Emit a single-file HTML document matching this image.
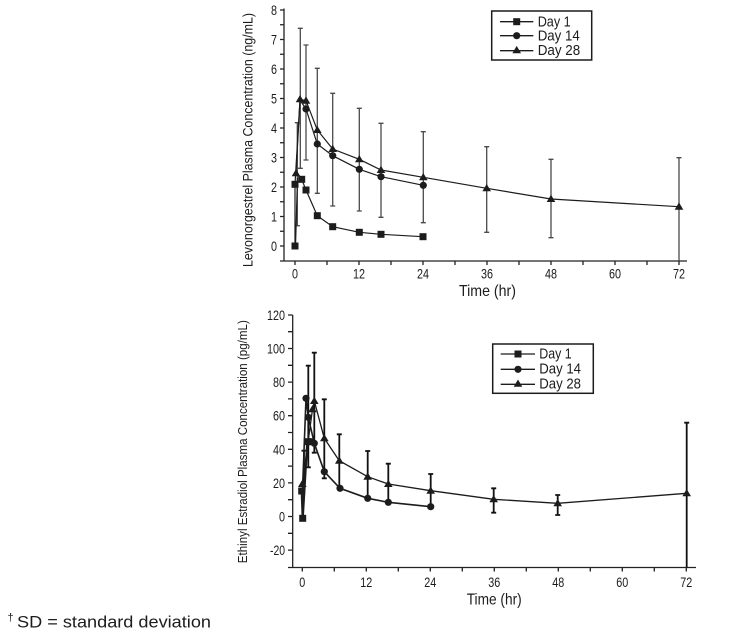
<!DOCTYPE html>
<html><head><meta charset="utf-8"><style>
html,body{margin:0;padding:0;background:#fff;}
svg{display:block;}
text{font-family:"Liberation Sans",Arial,sans-serif;fill:#1c1c1c;}
</style></head><body>
<svg width="735" height="634" viewBox="0 0 735 634" xmlns="http://www.w3.org/2000/svg">
<defs>
<rect id="sq" x="-3.5" y="-3.5" width="7" height="7" fill="#1c1c1c"/>
<circle id="ci" r="3.6" fill="#1c1c1c"/>
<path id="tr" d="M0,-4.3 L4.3,3 L-4.3,3 Z" fill="#1c1c1c"/>
</defs>

<!-- ================= TOP CHART ================= -->
<g stroke="#222" stroke-width="1.3" fill="none">
  <line x1="284" y1="8.5" x2="284" y2="261"/>
  <line x1="280" y1="261" x2="687" y2="261"/>
  <!-- y ticks every 0.5 -->
  <path d="M280,246H284M280,231.25H284M280,216.5H284M280,201.75H284M280,187H284M280,172.25H284M280,157.5H284M280,142.75H284M280,128H284M280,113.25H284M280,98.5H284M280,83.75H284M280,69H284M280,54.25H284M280,39.5H284M280,24.75H284M280,10H284"/>
  <!-- x ticks every 6h -->
  <path d="M295,261V265M327,261V265M359,261V265M391,261V265M423,261V265M455,261V265M487,261V265M519,261V265M551,261V265M583,261V265M615,261V265M647,261V265M679,261V265"/>
</g>
<g font-size="14" text-anchor="end">
  <text x="277" y="251" textLength="6" lengthAdjust="spacingAndGlyphs">0</text>
  <text x="277" y="221.5" textLength="6" lengthAdjust="spacingAndGlyphs">1</text>
  <text x="277" y="192" textLength="6" lengthAdjust="spacingAndGlyphs">2</text>
  <text x="277" y="162.5" textLength="6" lengthAdjust="spacingAndGlyphs">3</text>
  <text x="277" y="133" textLength="6" lengthAdjust="spacingAndGlyphs">4</text>
  <text x="277" y="103.5" textLength="6" lengthAdjust="spacingAndGlyphs">5</text>
  <text x="277" y="74" textLength="6" lengthAdjust="spacingAndGlyphs">6</text>
  <text x="277" y="44.5" textLength="6" lengthAdjust="spacingAndGlyphs">7</text>
  <text x="277" y="15" textLength="6" lengthAdjust="spacingAndGlyphs">8</text>
</g>
<g font-size="14" text-anchor="middle">
  <text x="295" y="278.5" textLength="6" lengthAdjust="spacingAndGlyphs">0</text>
  <text x="359" y="278.5" textLength="12" lengthAdjust="spacingAndGlyphs">12</text>
  <text x="423" y="278.5" textLength="12" lengthAdjust="spacingAndGlyphs">24</text>
  <text x="487" y="278.5" textLength="12" lengthAdjust="spacingAndGlyphs">36</text>
  <text x="551" y="278.5" textLength="12" lengthAdjust="spacingAndGlyphs">48</text>
  <text x="615" y="278.5" textLength="12" lengthAdjust="spacingAndGlyphs">60</text>
  <text x="679" y="278.5" textLength="12" lengthAdjust="spacingAndGlyphs">72</text>
</g>
<text x="487.5" y="296" font-size="16" text-anchor="middle" textLength="57" lengthAdjust="spacingAndGlyphs">Time (hr)</text>
<text transform="translate(252.5,140) rotate(-90)" font-size="13.5" text-anchor="middle" textLength="254" lengthAdjust="spacingAndGlyphs">Levonorgestrel Plasma Concentration (ng/mL)</text>

<!-- top error bars -->
<g stroke="#4a4a4a" stroke-width="1.3" fill="none">
  <path d="M297.3,122.7V225.7M294.8,122.7H299.8M294.8,225.7H299.8"/>
  <path d="M300.3,28.3V168.3M297.8,28.3H302.8M297.8,168.3H302.8"/>
  <path d="M306,45V160M303.5,45H308.5M303.5,160H308.5"/>
  <path d="M317.3,68.3V193.3M314.8,68.3H319.8M314.8,193.3H319.8"/>
  <path d="M332.7,93.3V206M330.2,93.3H335.2M330.2,206H335.2"/>
  <path d="M359.3,108.3V211M356.8,108.3H361.8M356.8,211H361.8"/>
  <path d="M381,123.3V217.3M378.5,123.3H383.5M378.5,217.3H383.5"/>
  <path d="M423.3,131.7V222.7M420.8,131.7H425.8M420.8,222.7H425.8"/>
  <path d="M486.7,146.7V232.3M484.2,146.7H489.2M484.2,232.3H489.2"/>
  <path d="M551,159.3V237.7M548.5,159.3H553.5M548.5,237.7H553.5"/>
  <path d="M679,157.7V261M676.5,157.7H681.5"/>
</g>
<!-- top series lines -->
<g stroke="#1c1c1c" stroke-width="1.2" fill="none">
  <polyline points="295,246 295,184.3 301.7,179.3 306,190 317.3,215.7 332.7,226.7 359.3,232.3 381,234.3 423,236.7"/>
  <line x1="295.5" y1="246" x2="297.5" y2="178"/>
  <polyline points="295,184 300,100 306,109 317.3,144 332.7,155.7 359.3,169.3 381,176.7 423.3,185.3"/>
  <polyline points="296,173.3 300,99.3 306,100.7 317.3,130 332.7,149 359.3,159.3 381,170 423.3,177.3 486.7,188.3 551,199 679,206.7"/>
</g>
<!-- top markers -->
<g>
  <use href="#sq" x="295" y="246"/><use href="#sq" x="295" y="184.3"/><use href="#sq" x="301.7" y="179.3"/><use href="#sq" x="306" y="190"/><use href="#sq" x="317.3" y="215.7"/><use href="#sq" x="332.7" y="226.7"/><use href="#sq" x="359.3" y="232.3"/><use href="#sq" x="381" y="234.3"/><use href="#sq" x="423" y="236.7"/>
  <use href="#ci" x="306" y="109"/><use href="#ci" x="317.3" y="144"/><use href="#ci" x="332.7" y="155.7"/><use href="#ci" x="359.3" y="169.3"/><use href="#ci" x="381" y="176.7"/><use href="#ci" x="423.3" y="185.3"/>
  <use href="#tr" x="296" y="173.3"/><use href="#tr" x="300" y="99.3"/><use href="#tr" x="306" y="100.7"/><use href="#tr" x="317.3" y="130"/><use href="#tr" x="332.7" y="149"/><use href="#tr" x="359.3" y="159.3"/><use href="#tr" x="381" y="170"/><use href="#tr" x="423.3" y="177.3"/><use href="#tr" x="486.7" y="188.3"/><use href="#tr" x="551" y="199"/><use href="#tr" x="679" y="206.7"/>
</g>
<!-- top legend -->
<rect x="491.7" y="11" width="100" height="49" fill="#fff" stroke="#1c1c1c" stroke-width="1.5"/>
<g stroke="#1c1c1c" stroke-width="1.3">
  <line x1="500" y1="21.7" x2="533.3" y2="21.7"/>
  <line x1="500" y1="35.7" x2="533.3" y2="35.7"/>
  <line x1="500" y1="50.7" x2="533.3" y2="50.7"/>
</g>
<use href="#sq" x="516.7" y="21.7"/><use href="#ci" x="516.7" y="35.7"/><use href="#tr" x="516.7" y="50.2"/>
<g font-size="15">
  <text x="537.7" y="26.7" textLength="33" lengthAdjust="spacingAndGlyphs">Day 1</text>
  <text x="537.7" y="40.7" textLength="42" lengthAdjust="spacingAndGlyphs">Day 14</text>
  <text x="537.7" y="55" textLength="42.5" lengthAdjust="spacingAndGlyphs">Day 28</text>
</g>

<!-- ================= BOTTOM CHART ================= -->
<g stroke="#222" stroke-width="1.3" fill="none">
  <line x1="292.7" y1="315" x2="292.7" y2="567.5"/>
  <line x1="288" y1="567.5" x2="696" y2="567.5"/>
  <path d="M288,550.1H292.7M288,533.3H292.7M288,516.5H292.7M288,499.7H292.7M288,482.9H292.7M288,466.1H292.7M288,449.3H292.7M288,432.5H292.7M288,415.7H292.7M288,398.9H292.7M288,382.1H292.7M288,365.3H292.7M288,348.5H292.7M288,331.7H292.7M288,315H292.7"/>
  <path d="M302.3,567.5V571.5M334.3,567.5V571.5M366.3,567.5V571.5M398.3,567.5V571.5M430.3,567.5V571.5M462.3,567.5V571.5M494.3,567.5V571.5M526.3,567.5V571.5M558.3,567.5V571.5M590.3,567.5V571.5M622.3,567.5V571.5M654.3,567.5V571.5M686.3,567.5V571.5"/>
</g>
<g font-size="14" text-anchor="end">
  <text x="285" y="555.1" textLength="15" lengthAdjust="spacingAndGlyphs">-20</text>
  <text x="285" y="521.5" textLength="6" lengthAdjust="spacingAndGlyphs">0</text>
  <text x="285" y="487.9" textLength="12" lengthAdjust="spacingAndGlyphs">20</text>
  <text x="285" y="454.3" textLength="12" lengthAdjust="spacingAndGlyphs">40</text>
  <text x="285" y="420.7" textLength="12" lengthAdjust="spacingAndGlyphs">60</text>
  <text x="285" y="387.1" textLength="12" lengthAdjust="spacingAndGlyphs">80</text>
  <text x="285" y="353.5" textLength="18" lengthAdjust="spacingAndGlyphs">100</text>
  <text x="285" y="320" textLength="18" lengthAdjust="spacingAndGlyphs">120</text>
</g>
<g font-size="14" text-anchor="middle">
  <text x="302.3" y="587" textLength="6" lengthAdjust="spacingAndGlyphs">0</text>
  <text x="366.3" y="587" textLength="12" lengthAdjust="spacingAndGlyphs">12</text>
  <text x="430.3" y="587" textLength="12" lengthAdjust="spacingAndGlyphs">24</text>
  <text x="494.3" y="587" textLength="12" lengthAdjust="spacingAndGlyphs">36</text>
  <text x="558.3" y="587" textLength="12" lengthAdjust="spacingAndGlyphs">48</text>
  <text x="622.3" y="587" textLength="12" lengthAdjust="spacingAndGlyphs">60</text>
  <text x="686.3" y="587" textLength="12" lengthAdjust="spacingAndGlyphs">72</text>
</g>
<text x="494.2" y="604.5" font-size="16" text-anchor="middle" textLength="55" lengthAdjust="spacingAndGlyphs">Time (hr)</text>
<text transform="translate(247,441.7) rotate(-90)" font-size="13" text-anchor="middle" textLength="243" lengthAdjust="spacingAndGlyphs">Ethinyl Estradiol Plasma Concentration (pg/mL)</text>

<!-- bottom error bars -->
<g stroke="#111" stroke-width="1.8" fill="none">
  <path d="M304,450.7V485M301.5,450.7H306.5"/>
  <path d="M308.3,365.7V467.3M305.8,365.7H310.8M305.8,467.3H310.8"/>
  <path d="M314.3,352.7V452.7M311.8,352.7H316.8M311.8,452.7H316.8"/>
  <path d="M324.3,399.3V478.3M321.8,399.3H326.8M321.8,478.3H326.8"/>
  <path d="M339.3,434.3V490M336.8,434.3H341.8"/>
  <path d="M367.7,451V495M365.2,451H370.2"/>
  <path d="M388.3,463.7V501M385.8,463.7H390.8"/>
  <path d="M430.7,474V505M428.2,474H433.2"/>
  <path d="M493.7,488.3V512.7M491.2,488.3H496.2M491.2,512.7H496.2"/>
  <path d="M557.7,495V515M555.2,495H560.2M555.2,515H560.2"/>
  <path d="M686.7,422.7V567.5M684.2,422.7H689.2"/>
</g>
<!-- bottom series lines -->
<g stroke="#1c1c1c" stroke-width="1.3" fill="none">
  <polyline points="301.7,491 302.7,518.3 307.3,441.7 311,441.7" stroke-width="2.2"/>
  <polyline points="302.5,490 306,398.3 308.3,417.3 314.3,443.3 324.3,471.7 340,488.3 367.7,498.3 388.3,502.3 430.7,506.7" stroke-width="1.6"/>
  <polyline points="302.3,484 312.5,409.3 314.3,401 324.3,438.3 339.3,460.7 367.7,476.7 388.3,484 430.7,490.7 493.7,499.3 557.7,503.3 686.7,493.3"/>
</g>
<g>
  <use href="#sq" x="301.7" y="491"/><use href="#sq" x="302.7" y="518.3"/><use href="#sq" x="307.3" y="441.7"/><use href="#sq" x="311" y="441.7"/>
  <use href="#ci" x="306" y="398.3"/><use href="#ci" x="308.3" y="417.3"/><use href="#ci" x="314.3" y="443.3"/><use href="#ci" x="324.3" y="471.7"/><use href="#ci" x="340" y="488.3"/><use href="#ci" x="367.7" y="498.3"/><use href="#ci" x="388.3" y="502.3"/><use href="#ci" x="430.7" y="506.7"/>
  <use href="#tr" x="302.3" y="484"/><use href="#tr" x="312.5" y="409.3"/><use href="#tr" x="314.3" y="401"/><use href="#tr" x="324.3" y="438.3"/><use href="#tr" x="339.3" y="460.7"/><use href="#tr" x="367.7" y="476.7"/><use href="#tr" x="388.3" y="484"/><use href="#tr" x="430.7" y="490.7"/><use href="#tr" x="493.7" y="499.3"/><use href="#tr" x="557.7" y="503.3"/><use href="#tr" x="686.7" y="493.3"/>
</g>
<!-- bottom legend -->
<rect x="492.7" y="344" width="100.6" height="49.3" fill="#fff" stroke="#1c1c1c" stroke-width="1.5"/>
<g stroke="#1c1c1c" stroke-width="1.3">
  <line x1="500.7" y1="354" x2="535" y2="354"/>
  <line x1="500.7" y1="369.3" x2="535" y2="369.3"/>
  <line x1="500.7" y1="384.3" x2="535" y2="384.3"/>
</g>
<use href="#sq" x="518" y="354"/><use href="#ci" x="518" y="369.3"/><use href="#tr" x="518" y="383.8"/>
<g font-size="15">
  <text x="539.3" y="358.3" textLength="32.4" lengthAdjust="spacingAndGlyphs">Day 1</text>
  <text x="539.3" y="373.3" textLength="41.7" lengthAdjust="spacingAndGlyphs">Day 14</text>
  <text x="539.3" y="388.3" textLength="41.7" lengthAdjust="spacingAndGlyphs">Day 28</text>
</g>

<!-- footnote -->
<text x="7.5" y="621" font-size="11">†</text>
<text x="17" y="627.7" font-size="17" textLength="194" lengthAdjust="spacingAndGlyphs">SD = standard deviation</text>
</svg>
</body></html>
